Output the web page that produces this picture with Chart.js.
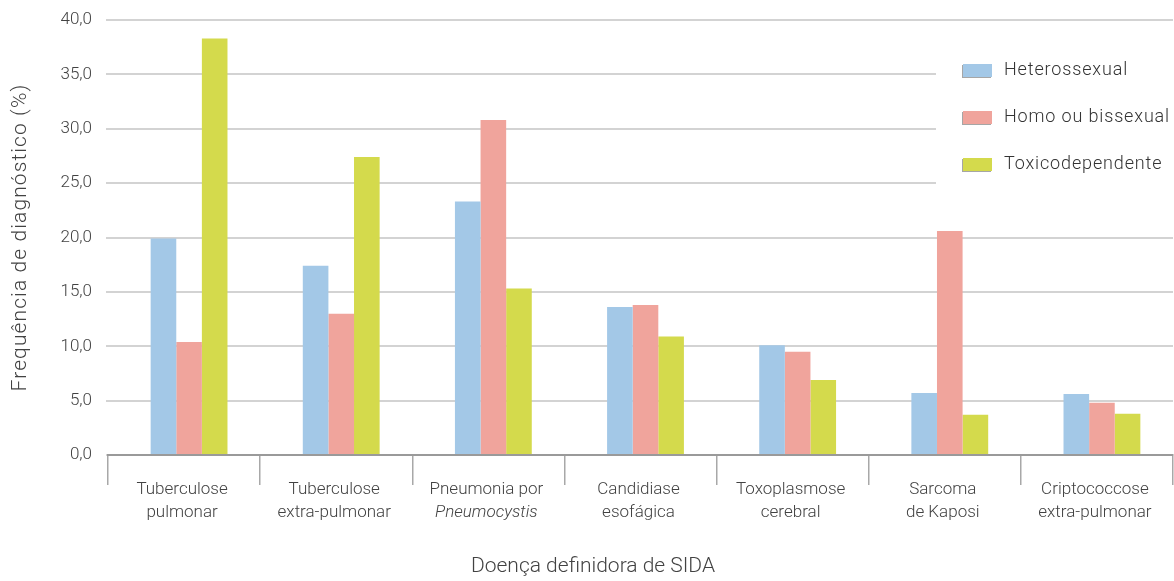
<!DOCTYPE html>
<html>
<head>
<meta charset="utf-8">
<script src="https://cdn.jsdelivr.net/npm/chart.js@4/dist/chart.umd.min.js"></script>
<style>
  html, body { margin: 0; padding: 0; background: #fff; }
  #wrap { width: 1174px; height: 581px; position: relative; }
</style>
</head>
<body>
<div id="wrap"><canvas id="chart"></canvas></div>
<script>
// Categories (two-line labels) and the per-group frequencies (%)
const categories = [
  ["Tuberculose", "pulmonar"],
  ["Tuberculose", "extra-pulmonar"],
  ["Pneumonia por", "Pneumocystis"],
  ["Candidiase", "esofágica"],
  ["Toxoplasmose", "cerebral"],
  ["Sarcoma", "de Kaposi"],
  ["Criptococcose", "extra-pulmonar"]
];
const italicLines = ["Pneumocystis"];
const seriesNames = ["Heterossexual", "Homo ou bissexual", "Toxicodependente"];
const heterossexual    = [19.9, 17.4, 23.3, 13.6, 10.1, 5.7, 5.6];
const homoBissexual    = [10.4, 13.0, 30.8, 13.8, 9.5, 20.6, 4.8];
const toxicodependente = [38.3, 27.4, 15.3, 10.9, 6.9, 3.7, 3.8];
const seriesColors = ["#a3c8e7", "#f0a49c", "#d4da4c"];
const yMin = 0, yMax = 40, yStep = 5;
const xTitle = "Doença definidora de SIDA";
const yTitle = "Frequência de diagnóstico (%)";

const FONT = "Roboto, 'Liberation Sans', sans-serif";
const TEXT = "#424242";

// Bars sit a little right of each category centre
const barShift = {
  id: "barShift",
  beforeDatasetsDraw(chart) { chart.ctx.save(); chart.ctx.translate(5, 0); },
  afterDatasetsDraw(chart) { chart.ctx.restore(); }
};

// Two-line category labels (with an italic genus name) and both axis titles
const axisText = {
  id: "axisText",
  afterDraw(chart) {
    const ctx = chart.ctx, sx = chart.scales.x, area = chart.chartArea;
    ctx.save();
    ctx.fillStyle = TEXT;
    ctx.textAlign = "center";
    ctx.textBaseline = "middle";
    categories.forEach((lines, i) => {
      const cx = sx.getPixelForValue(i) - 2;
      lines.forEach((t, j) => {
        const it = italicLines.includes(t) ? "italic " : "";
        ctx.font = it + "300 17px " + FONT;
        ctx.fillText(t, cx, sx.top + 35 + j * 23);
      });
    });
    ctx.font = "300 21px " + FONT;
    ctx.fillText(xTitle, chart.width / 2 + 6, chart.height - 14);

    ctx.translate(21, (area.top + area.bottom) / 2);
    ctx.rotate(-Math.PI / 2);
    ctx.letterSpacing = "1.1px";
    ctx.fillText(yTitle, 0, 0);
    ctx.restore();
  }
};

// Legend drawn over the upper-right part of the plot on a white panel
const sideLegend = {
  id: "sideLegend",
  afterDraw(chart) {
    const ctx = chart.ctx;
    ctx.save();
    ctx.fillStyle = "#fff";
    ctx.fillRect(936, 32, chart.width - 936, 170);
    seriesNames.forEach((name, i) => {
      const yc = 70.5 + i * 47;
      const x0 = 963, w = 29, h = 13;
      ctx.fillStyle = "rgba(0,0,0,0.35)";
      ctx.fillRect(x0 - 1, yc - h / 2 + 1, w, h);
      ctx.fillStyle = seriesColors[i];
      ctx.fillRect(x0, yc - h / 2, w, h);
      ctx.fillStyle = "#333";
      ctx.font = "300 18px " + FONT;
      ctx.letterSpacing = "0.85px";
      ctx.textAlign = "left";
      ctx.textBaseline = "middle";
      ctx.fillText(name, 1004, yc);
    });
    ctx.restore();
  }
};

new Chart(document.getElementById("chart"), {
  type: "bar",
  data: {
    labels: categories.map(c => c.join(" ")),
    datasets: [
      { label: seriesNames[0], data: heterossexual, backgroundColor: seriesColors[0] },
      { label: seriesNames[1], data: homoBissexual, backgroundColor: seriesColors[1] },
      { label: seriesNames[2], data: toxicodependente, backgroundColor: seriesColors[2] }
    ]
  },
  options: {
    responsive: true,
    maintainAspectRatio: false,
    animation: false,
    layout: { padding: { top: 20, right: 1, left: 0, bottom: 0 } },
    datasets: { bar: { categoryPercentage: 0.505, barPercentage: 1, borderWidth: 0 } },
    plugins: { legend: { display: false }, tooltip: { enabled: false } },
    scales: {
      x: {
        offset: true,
        grid: { offset: true, drawOnChartArea: false, drawTicks: true, tickLength: 30, color: "#a8a8a8", lineWidth: 1.5 },
        border: { display: true, color: "#9a9a9a", width: 2 },
        ticks: { display: false },
        afterFit(s) { s.height = 126; }
      },
      y: {
        min: yMin, max: yMax,
        grid: { color: "#d3d3d3", lineWidth: 2, tickLength: 2 },
        border: { display: false },
        ticks: {
          stepSize: yStep,
          padding: 14,
          color: TEXT,
          font: { family: FONT, size: 17, weight: "300" },
          callback: v => v.toFixed(1).replace(".", ",")
        },
        title: { display: false },
        afterFit(s) { s.width = 108; s.paddingTop = 8; s.paddingBottom = 8; }
      }
    }
  },
  plugins: [barShift, axisText, sideLegend]
});
</script>
</body>
</html>
